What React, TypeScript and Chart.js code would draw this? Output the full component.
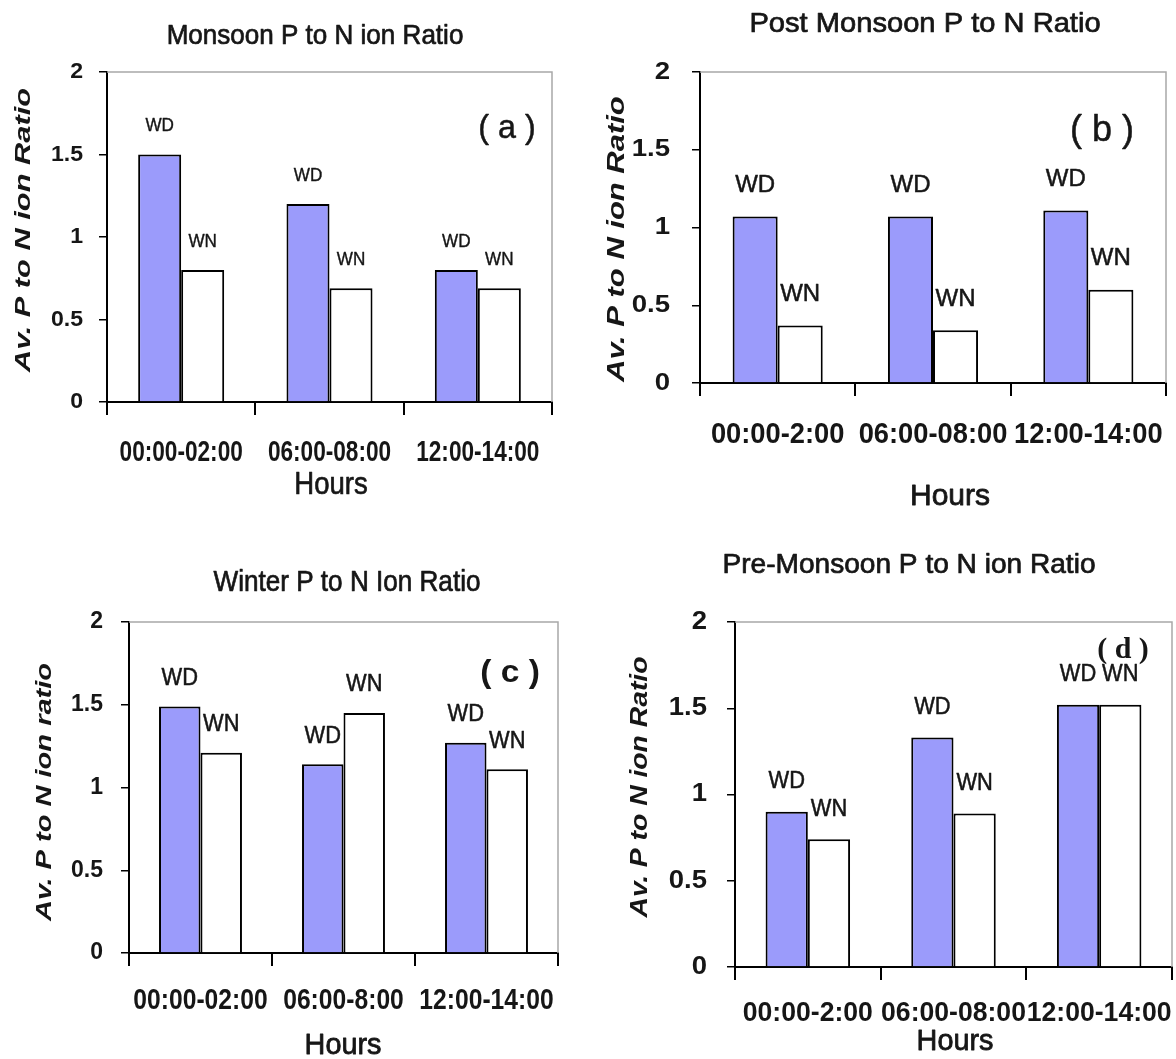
import React, { useEffect, useRef } from 'react';
import { Chart, registerables } from 'chart.js';

Chart.register(...registerables);

// ---------------- DATA ----------------
const seriesNames = ['WD', 'WN'];

const categoriesA = ['00:00-02:00', '06:00-08:00', '12:00-14:00'];
const wdA = [1.5, 1.2, 0.8];
const wnA = [0.8, 0.69, 0.69];

const categoriesB = ['00:00-2:00', '06:00-08:00', '12:00-14:00'];
const wdB = [1.07, 1.07, 1.11];
const wnB = [0.37, 0.34, 0.6];

const categoriesC = ['00:00-02:00', '06:00-8:00', '12:00-14:00'];
const wdC = [1.49, 1.14, 1.27];
const wnC = [1.21, 1.45, 1.11];

const categoriesD = ['00:00-2:00', '06:00-08:00', '12:00-14:00'];
const wdD = [0.9, 1.33, 1.52];
const wnD = [0.74, 0.89, 1.52];

const yMin = 0;
const yMax = 2;
const yStep = 0.5;

// ---------------- STYLE / LAYOUT ----------------
type FontSpec = { size: number; weight?: string; style?: string; sx: number; family?: string; stroke?: number };

interface Panel {
  key: string;
  x: number; y: number; w: number; h: number;
  area: { l: number; t: number; r: number; b: number };
  title: string; titlePos: [number, number]; titleFont: FontSpec;
  yTitle: string; yTitlePos: [number, number]; yTitleFont: FontSpec;
  yTickRight: number; yTickFont: FontSpec;
  xTickY: number; xTickFont: FontSpec;
  hoursPos: [number, number]; hoursFont: FontSpec;
  letter: string; letterPos: [number, number]; letterFont: FontSpec;
  labelFont: FontSpec; labelGap: number;
  categories: string[]; wd: number[]; wn: number[];
}

const SANS = '"Liberation Sans", Arial, Helvetica, sans-serif';
const SERIF = '"Liberation Serif", "Times New Roman", serif';
const TEXT_COLOR = '#161616';
const WD_COLOR = '#9b9bfb';

const panels: Panel[] = [
  {
    key: 'a', x: 0, y: 0, w: 580, h: 530,
    area: { l: 107, t: 72, r: 552, b: 402 },
    title: 'Monsoon P to N ion Ratio', titlePos: [315, 36], titleFont: { size: 28, sx: 0.93, stroke: 0.7 },
    yTitle: 'Av. P to N ion Ratio', yTitlePos: [24, 230], yTitleFont: { size: 22, weight: 'bold', style: 'italic', sx: 1.4 },
    yTickRight: 83, yTickFont: { size: 22, weight: 'bold', sx: 1.05 },
    xTickY: 453, xTickFont: { size: 29, weight: 'bold', sx: 0.78 },
    hoursPos: [331, 485], hoursFont: { size: 32, sx: 0.86, stroke: 0.7 },
    letter: '( a )', letterPos: [507, 129], letterFont: { size: 34, sx: 0.95, stroke: 0.5 },
    labelFont: { size: 18, sx: 0.95, stroke: 0.4 }, labelGap: 28,
    categories: categoriesA, wd: wdA, wn: wnA,
  },
  {
    key: 'b', x: 580, y: 0, w: 596, h: 530,
    area: { l: 120, t: 72, r: 586, b: 383 },
    title: 'Post Monsoon P to N Ratio', titlePos: [345, 24], titleFont: { size: 28, sx: 1.04, stroke: 0.7 },
    yTitle: 'Av. P to N ion Ratio', yTitlePos: [37, 239], yTitleFont: { size: 24, weight: 'bold', style: 'italic', sx: 1.29 },
    yTickRight: 90, yTickFont: { size: 24, weight: 'bold', sx: 1.15 },
    xTickY: 435, xTickFont: { size: 30, weight: 'bold', sx: 0.91 },
    hoursPos: [370, 497], hoursFont: { size: 30, sx: 1.0, stroke: 0.8 },
    letter: '( b )', letterPos: [522, 131], letterFont: { size: 36, sx: 1.0, stroke: 0.5 },
    labelFont: { size: 24, sx: 1.0, stroke: 0.5 }, labelGap: 31,
    categories: categoriesB, wd: wdB, wn: wnB,
  },
  {
    key: 'c', x: 0, y: 540, w: 580, h: 519,
    area: { l: 129, t: 82, r: 558, b: 413 },
    title: 'Winter P to N Ion Ratio', titlePos: [347, 43], titleFont: { size: 29, sx: 0.9, stroke: 0.7 },
    yTitle: 'Av. P to N ion ratio', yTitlePos: [45, 252], yTitleFont: { size: 22, weight: 'bold', style: 'italic', sx: 1.32 },
    yTickRight: 103, yTickFont: { size: 23, weight: 'bold', sx: 1.0 },
    xTickY: 461, xTickFont: { size: 29, weight: 'bold', sx: 0.85 },
    hoursPos: [343, 506], hoursFont: { size: 30, sx: 0.96, stroke: 0.8 },
    letter: '( c )', letterPos: [510, 133], letterFont: { size: 32, weight: 'bold', sx: 1.05 },
    labelFont: { size: 23, sx: 0.95, stroke: 0.5 }, labelGap: 28,
    categories: categoriesC, wd: wdC, wn: wnC,
  },
  {
    key: 'd', x: 580, y: 540, w: 596, h: 519,
    area: { l: 155, t: 82, r: 592, b: 427 },
    title: 'Pre-Monsoon P to N ion Ratio', titlePos: [329, 26], titleFont: { size: 27, sx: 1.04, stroke: 0.7 },
    yTitle: 'Av. P to N ion Ratio', yTitlePos: [61, 247], yTitleFont: { size: 23, weight: 'bold', style: 'italic', sx: 1.23 },
    yTickRight: 127, yTickFont: { size: 25, weight: 'bold', sx: 1.1 },
    xTickY: 473, xTickFont: { size: 28, weight: 'bold', sx: 0.95 },
    hoursPos: [375, 502], hoursFont: { size: 30, sx: 0.96, stroke: 0.8 },
    letter: '( d )', letterPos: [543, 110], letterFont: { size: 30, weight: 'bold', sx: 1.0, family: SERIF },
    labelFont: { size: 23, sx: 0.95, stroke: 0.5 }, labelGap: 30,
    categories: categoriesD, wd: wdD, wn: wnD,
  },
];

function drawText(
  ctx: CanvasRenderingContext2D,
  s: string,
  x: number,
  y: number,
  f: FontSpec,
  align: CanvasTextAlign = 'center',
  rot = 0,
) {
  ctx.save();
  ctx.translate(x, y);
  if (rot) ctx.rotate(rot);
  ctx.scale(f.sx, 1);
  ctx.font = `${f.style || 'normal'} ${f.weight || 'normal'} ${f.size}px ${f.family || SANS}`;
  ctx.fillStyle = TEXT_COLOR;
  ctx.textAlign = align;
  ctx.textBaseline = 'middle';
  ctx.fillText(s, 0, 0);
  if (f.stroke) {
    ctx.strokeStyle = TEXT_COLOR;
    ctx.lineWidth = f.stroke;
    ctx.lineJoin = 'round';
    ctx.strokeText(s, 0, 0);
  }
  ctx.restore();
}

function formatTick(v: number): string {
  return String(Math.round(v * 100) / 100);
}

function PanelChart({ p }: { p: Panel }) {
  const ref = useRef<HTMLCanvasElement | null>(null);

  useEffect(() => {
    if (!ref.current) return;
    const decor = {
      id: 'decor' + p.key,
      beforeDatasetsDraw(chart: any) {
        const ctx: CanvasRenderingContext2D = chart.ctx;
        const a = chart.chartArea;
        ctx.save();
        ctx.strokeStyle = '#a8a8a8';
        ctx.lineWidth = 1.5;
        ctx.beginPath();
        ctx.moveTo(a.left, a.top);
        ctx.lineTo(a.right, a.top);
        ctx.lineTo(a.right, a.bottom);
        ctx.stroke();
        ctx.restore();
      },
      afterDraw(chart: any) {
        const ctx: CanvasRenderingContext2D = chart.ctx;
        const xs = chart.scales.x;
        const ys = chart.scales.y;
        drawText(ctx, p.title, p.titlePos[0], p.titlePos[1], p.titleFont);
        drawText(ctx, p.yTitle, p.yTitlePos[0], p.yTitlePos[1], p.yTitleFont, 'center', -Math.PI / 2);
        ys.ticks.forEach((t: any) => {
          drawText(ctx, formatTick(t.value), p.yTickRight, ys.getPixelForValue(t.value), p.yTickFont, 'right');
        });
        xs.ticks.forEach((t: any, i: number) => {
          drawText(ctx, String(t.label), xs.getPixelForTick(i), p.xTickY, p.xTickFont);
        });
        drawText(ctx, 'Hours', p.hoursPos[0], p.hoursPos[1], p.hoursFont);
        drawText(ctx, p.letter, p.letterPos[0], p.letterPos[1], p.letterFont);
        chart.data.datasets.forEach((_ds: any, di: number) => {
          const meta = chart.getDatasetMeta(di);
          meta.data.forEach((el: any) => {
            const { x, y } = el.getProps(['x', 'y'], true);
            drawText(ctx, seriesNames[di], x, y - p.labelGap, p.labelFont);
          });
        });
      },
    };

    const chart = new Chart(ref.current, {
      type: 'bar',
      data: {
        labels: p.categories,
        datasets: [
          {
            label: seriesNames[0],
            data: p.wd,
            backgroundColor: WD_COLOR,
            borderColor: '#000',
            borderWidth: 2,
            categoryPercentage: 0.58,
            barPercentage: 1,
          },
          {
            label: seriesNames[1],
            data: p.wn,
            backgroundColor: '#ffffff',
            borderColor: '#000',
            borderWidth: 2,
            categoryPercentage: 0.58,
            barPercentage: 1,
          },
        ],
      },
      options: {
        responsive: false,
        animation: false,
        devicePixelRatio: 1,
        layout: {
          padding: { left: 0, top: p.area.t, right: p.w - p.area.r, bottom: 0 },
        },
        plugins: {
          legend: { display: false },
          tooltip: { enabled: false },
          title: { display: false },
        },
        scales: {
          x: {
            type: 'category',
            offset: true,
            grid: {
              display: true,
              offset: true,
              drawOnChartArea: false,
              drawTicks: true,
              tickLength: 13,
              color: '#000',
              lineWidth: 2,
            },
            border: { display: true, color: '#000', width: 2 },
            ticks: { display: false },
            afterFit: (s: any) => {
              s.height = p.h - p.area.b;
            },
          },
          y: {
            min: yMin,
            max: yMax,
            grid: {
              display: true,
              drawOnChartArea: false,
              drawTicks: true,
              tickLength: 8,
              color: '#000',
              lineWidth: 1.5,
            },
            border: { display: true, color: '#000', width: 2 },
            ticks: { display: false, stepSize: yStep },
            afterFit: (s: any) => {
              s.width = p.area.l;
            },
          },
        },
      },
      plugins: [decor],
    } as any);

    return () => chart.destroy();
  }, [p]);

  return (
    <canvas
      ref={ref}
      width={p.w}
      height={p.h}
      style={{ position: 'absolute', left: p.x, top: p.y, width: p.w, height: p.h }}
    />
  );
}

export default function App() {
  return (
    <div style={{ position: 'absolute', left: 0, top: 0, width: 1176, height: 1059, background: '#fff', overflow: 'hidden' }}>
      {panels.map((p) => (
        <PanelChart key={p.key} p={p} />
      ))}
    </div>
  );
}
